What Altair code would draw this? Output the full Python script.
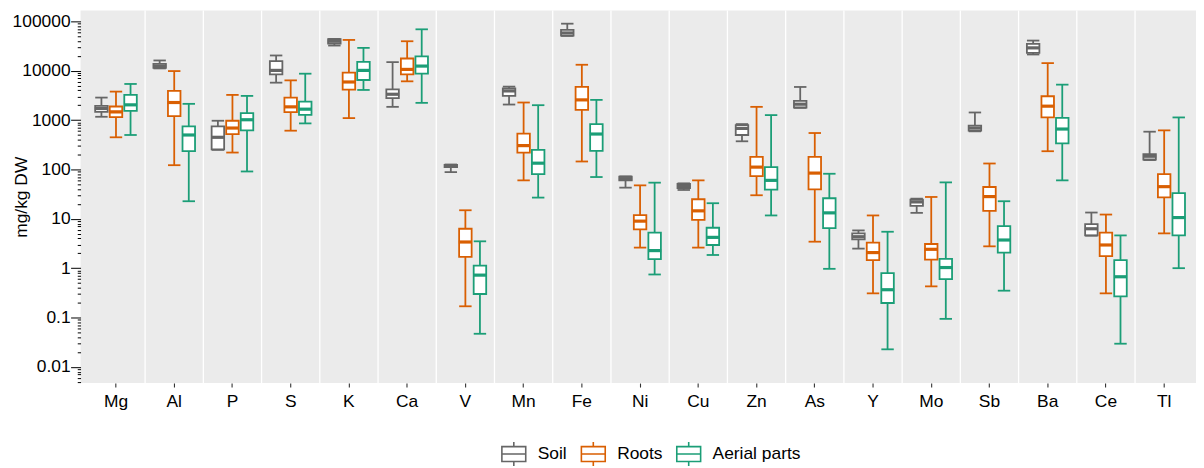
import altair as alt
import pandas as pd

FONT = "Liberation Sans"

ELEMENTS = ["Mg", "Al", "P", "S", "K", "Ca", "V", "Mn", "Fe", "Ni", "Cu", "Zn",
            "As", "Y", "Mo", "Sb", "Ba", "Ce", "Tl"]
GROUPS = ["Soil", "Roots", "Aerial parts"]
COLORS = ["#666666", "#D95F02", "#1B9E77"]

# Soil
SOIL_LO = [1167, 11140, 249, 5730, 32360, 1854, 88.3, 2066, 50690, 42.8, 38.4, 372, 1771, 2.49, 13.2, 592, 21330, 4.55, 155]
SOIL_Q1 = [1472, 11490, 256, 8440, 35480, 2773, 111.5, 3090, 51440, 60.1, 42.1, 499, 1799, 3.84, 18.3, 610, 23030, 4.61, 159]
SOIL_MED = [1718, 12420, 448, 10160, 39550, 3337, 118.6, 3899, 58210, 64.9, 46.2, 679, 2099, 4.34, 22.0, 690, 29040, 6.29, 185]
SOIL_Q3 = [1945, 13830, 745, 15660, 43450, 4210, 124, 4406, 66920, 71.2, 50.7, 793, 2449, 5.07, 24.5, 769, 34990, 7.81, 204]
SOIL_HI = [2857, 16140, 970, 20370, 44060, 14930, 126, 4764, 89760, 72.3, 52.3, 830, 4690, 5.82, 25.6, 1426, 40830, 13.4, 582]

# Roots
ROOTS_LO = [448, 122, 220, 610, 1097, 6100, 0.169, 60.1, 145, 2.61, 2.61, 30.0, 3.44, 0.309, 0.428, 2.77, 234, 0.309, 5.07]
ROOTS_Q1 = [1148, 1205, 522, 1449, 4140, 8440, 1.69, 220, 1615, 6.10, 9.55, 73.4, 39.6, 1.45, 1.49, 14.5, 1132, 1.75, 27.3]
ROOTS_MED = [1472, 2270, 690, 1854, 5915, 10640, 3.39, 304, 2566, 8.97, 14.5, 111.5, 84.4, 2.07, 2.41, 28.2, 1914, 2.95, 44.8]
ROOTS_Q3 = [1884, 3899, 970, 2857, 9120, 17700, 6.29, 531, 4690, 11.9, 24.9, 180, 180, 3.29, 3.09, 44.1, 3041, 5.23, 80.5]
ROOTS_HI = [3776, 9840, 3236, 6380, 42070, 39550, 14.9, 2270, 13210, 47.6, 60.1, 1854, 547, 11.7, 27.7, 132, 14260, 12.2, 619]

# Aerial parts
AER_LO = [499, 22.7, 91, 857, 4080, 2234, 0.0469, 26.9, 70.2, 0.745, 1.85, 11.7, 0.97, 0.0227, 0.094, 0.350, 60.1, 0.0295, 1.0]
AER_Q1 = [1541, 234, 619, 1280, 6490, 8710, 0.300, 80.5, 238, 1.52, 2.95, 39.0, 6.49, 0.197, 0.601, 2.07, 339, 0.269, 4.61]
AER_MED = [2037, 499, 1016, 1664, 10160, 12420, 0.723, 134, 522, 2.27, 4.21, 60.1, 13.2, 0.366, 1.03, 3.72, 659, 0.670, 10.6]
AER_Q3 = [3236, 745, 1384, 2377, 15170, 19450, 1.13, 249, 830, 5.23, 6.59, 111.5, 26.1, 0.793, 1.54, 7.11, 1114, 1.45, 33.3]
AER_HI = [5395, 2133, 3090, 8710, 29040, 69020, 3.50, 2004, 2566, 54.0, 20.7, 1262, 81.8, 5.47, 54.7, 22.7, 5224, 4.61, 1132]

Y_MIN, Y_MAX = 0.0047, 166500
MAJOR_TICKS = [100000, 10000, 1000, 100, 10, 1, 0.1, 0.01]
DECADES = [0.001, 0.01, 0.1, 1, 10, 100, 1000, 10000]
MINOR_MULT = [2, 3, 4, 5, 6, 7, 8, 9]

stats = {
    "Soil": (SOIL_LO, SOIL_Q1, SOIL_MED, SOIL_Q3, SOIL_HI),
    "Roots": (ROOTS_LO, ROOTS_Q1, ROOTS_MED, ROOTS_Q3, ROOTS_HI),
    "Aerial parts": (AER_LO, AER_Q1, AER_MED, AER_Q3, AER_HI),
}
rows = []
for g in GROUPS:
    lo, q1, med, q3, hi = stats[g]
    for i, e in enumerate(ELEMENTS):
        rows.append({"element": e, "group": g, "lo": lo[i], "q1": q1[i],
                     "med": med[i], "q3": q3[i], "hi": hi[i]})
df = pd.DataFrame(rows)
sep_df = pd.DataFrame({"element": ELEMENTS[1:]})

minor_ticks = [m * d for d in DECADES for m in MINOR_MULT if Y_MIN <= m * d <= Y_MAX]
tick_values = MAJOR_TICKS + minor_ticks
MAJOR_TEST = "abs(log(datum.value)/LN10 - round(log(datum.value)/LN10)) < 1e-6"

xscale = alt.Scale(domain=ELEMENTS, paddingInner=0, paddingOuter=0.0776, align=0.70)
xax = alt.Axis(title=None, labelAngle=0, labelFontSize=17.5, labelFont=FONT,
               labelColor="black", tickSize=4, tickColor="#333333", tickWidth=1.1,
               domain=False, grid=False, labelPadding=5.5)
x_enc = alt.X("element:N", scale=xscale, axis=xax)
xoff = alt.XOffset("group:N", scale=alt.Scale(domain=GROUPS, paddingInner=0, paddingOuter=0.5))

yscale = alt.Scale(type="log", domain=[Y_MIN, Y_MAX], nice=False)
yax = alt.Axis(
    title="mg/kg DW", values=tick_values,
    labelExpr=f"({MAJOR_TEST}) ? format(datum.value, '~g') : ''",
    tickSize={"condition": {"test": MAJOR_TEST, "value": 10}, "value": 3.3},
    tickColor="black", tickWidth=1, domain=False, grid=False,
    labelFontSize=17.5, labelFont=FONT, labelColor="black", labelPadding=0.5,
    labelOverlap=False, labelFlush=False,
    titleFontSize=17.5, titleFont=FONT, titleColor="black", titleFontWeight="normal",
    titleX=-59, titleBaseline="middle",
)

BOX_PATH = "M-0.8,-0.5H0.8V0.5H-0.8Z M-0.8,0H0.8 M0,-0.5V-0.8 M0,0.5V0.8"
legend = alt.Legend(
    title=None, orient="none", legendX=420, legendY=430, direction="horizontal",
    symbolType=BOX_PATH, symbolSize=900, symbolStrokeWidth=1.6,
    symbolFillColor="#F2F2F2", symbolOpacity=1, labelFontSize=17.5, labelFont=FONT,
    labelColor="black", labelOffset=8, columnPadding=10, padding=0,
)
color = alt.Color("group:N", scale=alt.Scale(domain=GROUPS, range=COLORS), legend=legend)

base = alt.Chart(df)

sep = alt.Chart(sep_df).mark_rule(color="white", strokeWidth=1.3).encode(
    x=alt.X("element:N", bandPosition=0, scale=xscale, axis=xax)
)

LW = 1.8
whisk = base.mark_rule(strokeWidth=LW).encode(
    x=x_enc, xOffset=xoff,
    y=alt.Y("lo:Q", scale=yscale, axis=yax), y2="hi:Q", color=color,
)
box = base.mark_bar(filled=False, fill="white", strokeWidth=LW, width=12.6, opacity=1).encode(
    x=x_enc, xOffset=xoff,
    y=alt.Y("q1:Q", scale=yscale, axis=yax), y2="q3:Q", color=color,
)
cap_lo = base.mark_tick(filled=False, size=10.8, thickness=0.1, strokeWidth=1.7, opacity=1).encode(
    x=x_enc, xOffset=xoff, y=alt.Y("lo:Q", scale=yscale, axis=yax), color=color,
)
cap_hi = base.mark_tick(filled=False, size=10.8, thickness=0.1, strokeWidth=1.7, opacity=1).encode(
    x=x_enc, xOffset=xoff, y=alt.Y("hi:Q", scale=yscale, axis=yax), color=color,
)
median = base.mark_tick(filled=False, size=11.4, thickness=1.4, strokeWidth=1.8, opacity=1).encode(
    x=x_enc, xOffset=xoff, y=alt.Y("med:Q", scale=yscale, axis=yax), color=color,
)

chart = alt.layer(sep, whisk, box, cap_lo, cap_hi, median).properties(
    width=1122.5, height=375,
    background="white",
    autosize=alt.AutoSizeParams(type="none"),
    padding={"left": 73, "top": 1, "right": 0, "bottom": 84},
).configure_view(
    stroke=None, fill="#EBEBEB"
)

chart.save("out.html", embed_options={"renderer": "svg", "actions": False})
